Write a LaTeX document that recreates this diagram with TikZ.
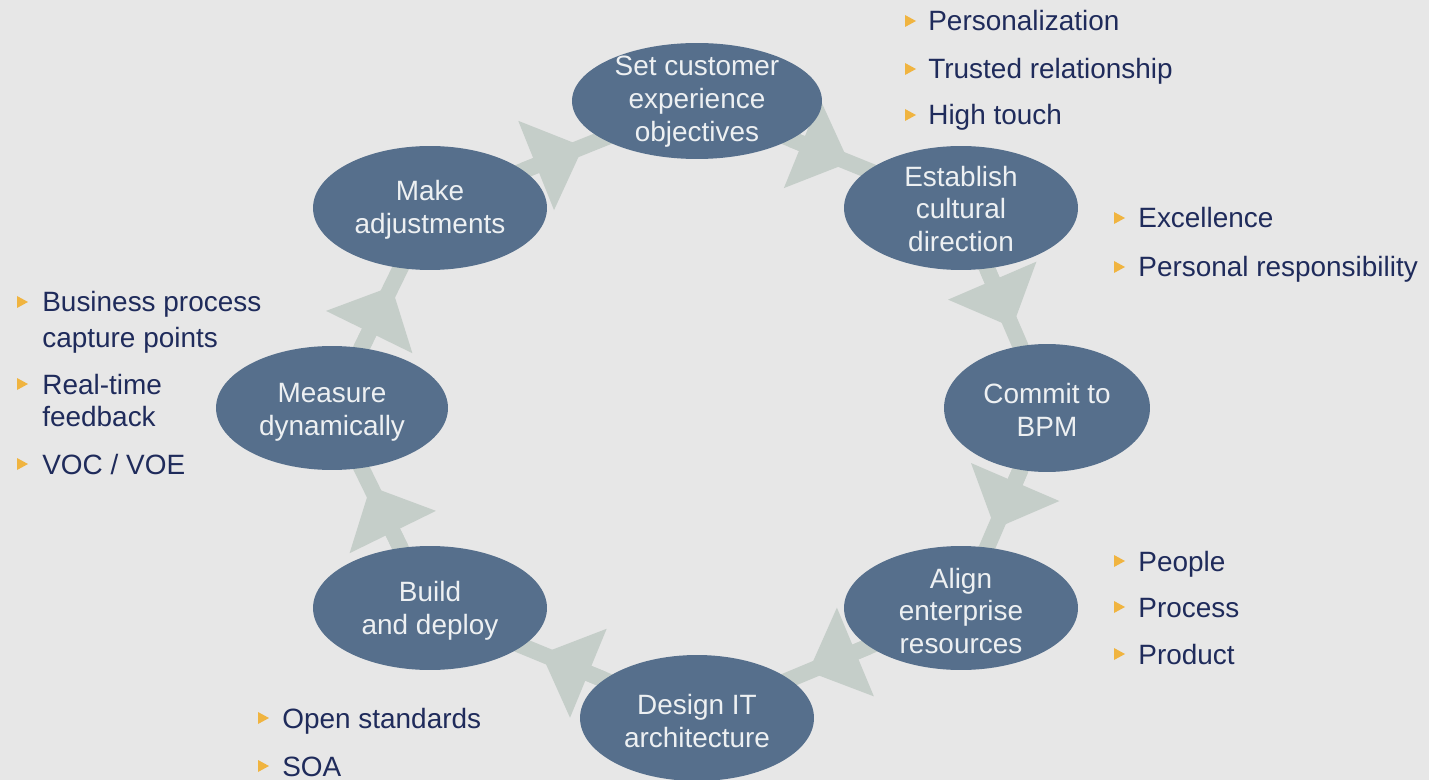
\documentclass[tikz,border=0pt]{standalone}
\usepackage{fontspec}
\setmainfont{Liberation Sans}
\usetikzlibrary{shapes.geometric,arrows.meta}

\definecolor{pagebg}{HTML}{E7E7E7}
\definecolor{stagefill}{HTML}{566F8C}
\definecolor{flowgray}{HTML}{C5CEC9}
\definecolor{stagetext}{HTML}{EDF0F2}
\definecolor{itemtext}{HTML}{1F2B5B}
\definecolor{bulletor}{HTML}{F0B440}

\pgfdeclarelayer{back}
\pgfdeclarelayer{links}
\pgfsetlayers{back,links,main}

\tikzset{
  stage/.style={ellipse, fill=stagefill, inner sep=0pt, minimum width=4.68cm, minimum height=2.48cm},
  stagelabel/.style={align=center, text=stagetext, inner sep=0pt,
    font=\fontsize{15.9}{18.7}\selectfont},
  itemtxt/.style={anchor=base west, inner sep=0pt, text=itemtext,
    font=\fontsize{15.9}{18.7}\selectfont},
  flowline/.style={draw=flowgray, line width=0.32cm, shorten <=-0.15cm, shorten >=-0.15cm},
  flowhead/.style={draw=flowgray, line width=0.32cm, shorten >=0.4cm,
    -{Triangle[length=1.02cm,width=1.86cm]}},
  pics/bulletmark/.style={code={\fill[bulletor] (-5,-6) -- (6,0) -- (-5,6) -- cycle;}}
}

\begin{document}
\begin{tikzpicture}[x=0.02cm, y=-0.02cm]
\useasboundingbox (0,0) rectangle (1429,780);
\begin{pgfonlayer}{back}
  \fill[pagebg] (0,0) rectangle (1429,780);
\end{pgfonlayer}

% the eight stages of the cycle
\node[stage, minimum width=5cm, minimum height=2.32cm] (s1) at (697,101) {};
\node[stage] (s2) at (961,208) {};
\node[stage, minimum width=4.12cm, minimum height=2.56cm] (s3) at (1047,408) {};
\node[stage] (s4) at (961,608) {};
\node[stage, minimum height=2.52cm] (s5) at (697,718) {};
\node[stage] (s6) at (430,608) {};
\node[stage, minimum width=4.64cm] (s7) at (332,408) {};
\node[stage] (s8) at (430,208) {};

\node[stagelabel] (l1) at (697,102) {Set customer\\experience\\objectives};
\node[stagelabel] (l2) at (961,209) {Establish\\cultural\\direction};
\node[stagelabel] (l3) at (1047,410) {Commit to\\BPM};
\node[stagelabel] (l4) at (961,611) {Align\\enterprise\\resources};
\node[stagelabel] (l5) at (697,721) {Design IT\\architecture};
\node[stagelabel] (l6) at (430,611) {Build\\and deploy};
\node[stagelabel] (l7) at (332,412) {Measure\\dynamically};
\node[stagelabel] (l8) at (430,210) {Make\\adjustments};

% connectors between stages
\begin{pgfonlayer}{links}
  \foreach \a/\b in {s8/s1, s1/s2, s2/s3, s3/s4, s4/s5, s5/s6, s6/s7, s7/s8} {
    \draw[flowline] (\a) -- (\b);
    \draw[flowhead] (\a) -- (\b);
  }
\end{pgfonlayer}

% bullet lists
\pic at (910,21) {bulletmark};
\node[itemtxt] (a1) at (928,31) {Personalization};
\pic at (910,69) {bulletmark};
\node[itemtxt] (a2) at (928,79) {Trusted relationship};
\pic at (910,115) {bulletmark};
\node[itemtxt] (a3) at (928,125) {High touch};

\pic at (1119,218) {bulletmark};
\node[itemtxt] (b1) at (1138,228) {Excellence};
\pic at (1119,267) {bulletmark};
\node[itemtxt] (b2) at (1138,277) {Personal responsibility};

\pic at (1119,561) {bulletmark};
\node[itemtxt] (c1) at (1138,571) {People};
\pic at (1119,607) {bulletmark};
\node[itemtxt] (c2) at (1138,617) {Process};
\pic at (1119,654) {bulletmark};
\node[itemtxt] (c3) at (1138,664) {Product};

\pic at (22,302) {bulletmark};
\node[itemtxt] (d1) at (42,312) {Business process};
\node[itemtxt] (d1b) at (42,347) {capture points};
\pic at (22,384) {bulletmark};
\node[itemtxt] (d2) at (42,394) {Real-time};
\node[itemtxt] (d2b) at (42,426) {feedback};
\pic at (22,464) {bulletmark};
\node[itemtxt] (d3) at (42,474) {VOC / VOE};

\pic at (263,718) {bulletmark};
\node[itemtxt] (e1) at (282,728) {Open standards};
\pic at (263,766) {bulletmark};
\node[itemtxt] (e2) at (282,776) {SOA};
\end{tikzpicture}
\end{document}
